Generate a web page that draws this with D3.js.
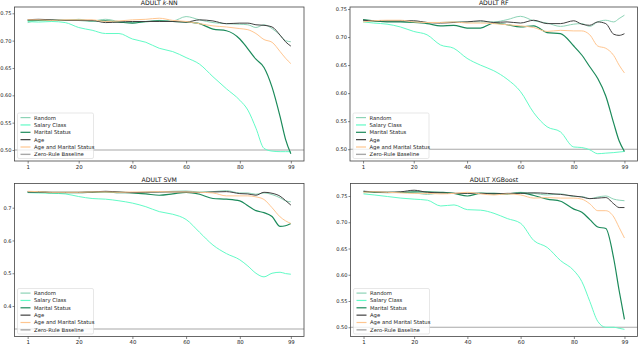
<!DOCTYPE html>
<html>
<head>
<meta charset="utf-8">
<script src="https://cdn.jsdelivr.net/npm/d3@7"></script>
<style>
  body { margin: 0; background: #fff; }
  svg { display: block; font-family: "DejaVu Sans", sans-serif; }
</style>
</head>
<body>
<svg id="chart" width="640" height="345"></svg>
<script>
// x positions (percent of data removed) where values were read
var steps = [1, 5, 10, 15, 20, 25, 30, 35, 40, 45, 50, 55, 60, 65, 70, 75, 80, 83, 86, 89, 92, 95, 97, 99];
var xTicks = [1, 20, 40, 60, 80, 99];
var seriesNames = ["Random", "Salary Class", "Marital Status", "Age", "Age and Marital Status"];

// ADULT k-NN
var knnRandom  = [0.733,0.737,0.738,0.737,0.739,0.736,0.739,0.735,0.733,0.734,0.737,0.736,0.744,0.738,0.733,0.731,0.730,0.729,0.724,0.729,0.722,0.710,0.700,0.698];
var knnSalary  = [0.735,0.734,0.735,0.733,0.724,0.719,0.713,0.713,0.703,0.697,0.686,0.680,0.669,0.657,0.634,0.612,0.591,0.573,0.540,0.503,0.498,0.497,0.497,0.497];
var knnMarital = [0.737,0.737,0.737,0.737,0.737,0.736,0.736,0.734,0.732,0.735,0.736,0.735,0.734,0.731,0.721,0.718,0.703,0.685,0.666,0.651,0.615,0.561,0.520,0.493];
var knnAge     = [0.738,0.739,0.738,0.737,0.737,0.737,0.733,0.734,0.735,0.735,0.735,0.735,0.734,0.738,0.736,0.731,0.732,0.732,0.729,0.728,0.725,0.710,0.698,0.690];
var knnAgeMar  = [0.738,0.738,0.737,0.738,0.738,0.738,0.735,0.736,0.738,0.739,0.741,0.737,0.735,0.731,0.727,0.725,0.722,0.720,0.713,0.702,0.697,0.680,0.668,0.658];

// ADULT RF
var rfRandom  = [0.729,0.728,0.728,0.728,0.728,0.726,0.726,0.727,0.727,0.727,0.727,0.731,0.737,0.729,0.725,0.719,0.723,0.724,0.719,0.727,0.730,0.727,0.733,0.739];
var rfSalary  = [0.727,0.725,0.723,0.718,0.710,0.704,0.686,0.680,0.662,0.650,0.640,0.625,0.603,0.565,0.540,0.531,0.504,0.503,0.499,0.492,0.493,0.494,0.495,0.496];
var rfMarital = [0.731,0.729,0.727,0.727,0.726,0.724,0.720,0.721,0.716,0.716,0.725,0.722,0.718,0.720,0.708,0.706,0.684,0.668,0.647,0.626,0.595,0.546,0.515,0.496];
var rfAge     = [0.730,0.729,0.729,0.729,0.729,0.726,0.725,0.726,0.727,0.729,0.726,0.727,0.725,0.730,0.724,0.724,0.729,0.723,0.721,0.727,0.724,0.705,0.703,0.706];
var rfAgeMar  = [0.727,0.729,0.730,0.730,0.727,0.726,0.726,0.727,0.725,0.725,0.724,0.722,0.720,0.717,0.710,0.712,0.711,0.711,0.704,0.684,0.680,0.667,0.650,0.636];

// ADULT SVM
var svmRandom  = [0.747,0.748,0.747,0.747,0.747,0.748,0.749,0.748,0.746,0.747,0.748,0.750,0.751,0.748,0.749,0.752,0.745,0.745,0.741,0.745,0.740,0.730,0.721,0.718];
var svmSalary  = [0.746,0.745,0.744,0.742,0.734,0.728,0.726,0.721,0.714,0.703,0.688,0.680,0.664,0.625,0.586,0.560,0.541,0.522,0.500,0.489,0.500,0.503,0.499,0.497];
var svmMarital = [0.748,0.748,0.746,0.746,0.746,0.747,0.748,0.746,0.745,0.742,0.738,0.742,0.747,0.741,0.728,0.726,0.721,0.706,0.691,0.685,0.673,0.643,0.645,0.652];
var svmAge     = [0.748,0.748,0.747,0.747,0.747,0.748,0.750,0.748,0.746,0.747,0.748,0.748,0.748,0.746,0.748,0.749,0.743,0.742,0.738,0.747,0.744,0.735,0.722,0.708];
var svmAgeMar  = [0.750,0.749,0.747,0.747,0.747,0.748,0.748,0.747,0.748,0.748,0.749,0.748,0.748,0.747,0.745,0.736,0.736,0.736,0.733,0.725,0.700,0.672,0.660,0.652];

// ADULT XGBoost
var xgbRandom  = [0.756,0.757,0.756,0.757,0.756,0.753,0.756,0.755,0.755,0.756,0.753,0.754,0.757,0.755,0.752,0.754,0.749,0.749,0.745,0.748,0.750,0.744,0.742,0.741];
var xgbSalary  = [0.754,0.752,0.749,0.746,0.744,0.742,0.731,0.733,0.724,0.723,0.717,0.707,0.698,0.665,0.652,0.627,0.608,0.587,0.549,0.511,0.500,0.500,0.498,0.496];
var xgbMarital = [0.759,0.757,0.757,0.757,0.758,0.758,0.757,0.755,0.750,0.755,0.755,0.754,0.756,0.751,0.744,0.740,0.725,0.719,0.705,0.691,0.688,0.630,0.570,0.515];
var xgbAge     = [0.759,0.758,0.757,0.758,0.761,0.757,0.756,0.755,0.755,0.755,0.754,0.755,0.755,0.756,0.755,0.753,0.750,0.748,0.745,0.746,0.747,0.735,0.728,0.728];
var xgbAgeMar  = [0.757,0.758,0.757,0.756,0.755,0.755,0.754,0.755,0.757,0.754,0.752,0.754,0.752,0.746,0.747,0.746,0.746,0.744,0.735,0.722,0.722,0.710,0.690,0.670];

// zero-rule baselines
var baselines = [0.50, 0.50, 0.33, 0.50];

var colors = ["#8dd3b6", "#62fbc6", "#1b8a5a", "#404040", "#ffc690"];
var baseColor = "#a8a8a8";

var panels = [
  {title: "k-NN", series: [knnRandom, knnSalary, knnMarital, knnAge, knnAgeMar], base: baselines[0],
   box: [14.5, 304, 7, 161], yDom: [0.4799, 0.7615], yTicks: [0.50, 0.55, 0.60, 0.65, 0.70, 0.75], fmt: ".2f"},
  {title: "RF", series: [rfRandom, rfSalary, rfMarital, rfAge, rfAgeMar], base: baselines[1],
   box: [350, 637.5, 7, 161], yDom: [0.479, 0.7536], yTicks: [0.50, 0.55, 0.60, 0.65, 0.70, 0.75], fmt: ".2f"},
  {title: "SVM", series: [svmRandom, svmSalary, svmMarital, svmAge, svmAgeMar], base: baselines[2],
   box: [14.5, 304, 183.5, 336.5], yDom: [0.307, 0.7738], yTicks: [0.4, 0.5, 0.6, 0.7], fmt: ".1f"},
  {title: "XGBoost", series: [xgbRandom, xgbSalary, xgbMarital, xgbAge, xgbAgeMar], base: baselines[3],
   box: [350.5, 637.5, 183.5, 336.5], yDom: [0.4824, 0.7738], yTicks: [0.50, 0.55, 0.60, 0.65, 0.70, 0.75], fmt: ".2f"}
];

var svg = d3.select("#chart");

panels.forEach(function(p) {
  var left = p.box[0], right = p.box[1], top = p.box[2], bottom = p.box[3];
  var x = d3.scaleLinear().domain([-3.9, 103.9]).range([left, right]);
  var y = d3.scaleLinear().domain(p.yDom).range([bottom, top]);
  var g = svg.append("g");

  // title
  var t = g.append("text")
    .attr("x", (left + right) / 2).attr("y", top - 2)
    .attr("text-anchor", "middle")
    .attr("font-size", 6.2).attr("fill", "#111")
    .text("ADULT ");
  if (p.title === "k-NN") {
    t.append("tspan").attr("font-style", "italic").text("k");
    t.append("tspan").text("-NN");
  } else {
    t.append("tspan").text(p.title);
  }

  // axes
  g.append("g")
    .attr("transform", "translate(0," + bottom + ")")
    .call(d3.axisBottom(x).tickValues(xTicks).tickSize(2.5).tickPadding(1.5).tickFormat(d3.format("d")))
    .call(function(a) {
      a.select(".domain").remove();
      a.selectAll("line").attr("stroke", "#333").attr("stroke-width", 0.6);
      a.selectAll("text").attr("font-size", 5.4).attr("fill", "#222").attr("font-family", "DejaVu Sans");
    });

  g.append("g")
    .attr("transform", "translate(" + left + ",0)")
    .call(d3.axisLeft(y).tickValues(p.yTicks).tickSize(2).tickPadding(1).tickFormat(d3.format(p.fmt)))
    .call(function(a) {
      a.select(".domain").remove();
      a.selectAll("line").attr("stroke", "#333").attr("stroke-width", 0.6);
      a.selectAll("text").attr("font-size", 5.1).attr("fill", "#222").attr("font-family", "DejaVu Sans");
    });

  // baseline
  g.append("line")
    .attr("x1", left).attr("x2", right)
    .attr("y1", y(p.base)).attr("y2", y(p.base))
    .attr("stroke", baseColor).attr("stroke-width", 1.1);

  var line = d3.line()
    .curve(d3.curveMonotoneX)
    .x(function(d, i) { return x(steps[i]); })
    .y(function(d) { return y(d); });

  p.series.forEach(function(s, i) {
    g.append("path")
      .attr("d", line(s))
      .attr("fill", "none")
      .attr("stroke", colors[i])
      .attr("stroke-width", i === 2 ? 1.2 : 1);
  });

  // frame
  g.append("rect")
    .attr("x", left).attr("y", top)
    .attr("width", right - left).attr("height", bottom - top)
    .attr("fill", "none").attr("stroke", "#444").attr("stroke-width", 0.8);

  // legend
  var lx = left + 3, ly = bottom - 48;
  var leg = g.append("g").attr("transform", "translate(" + lx + "," + ly + ")");
  leg.append("rect")
    .attr("width", 76).attr("height", 45.5).attr("rx", 1.5)
    .attr("fill", "#fff").attr("fill-opacity", 0.8)
    .attr("stroke", "#d6d6d6").attr("stroke-width", 0.6);
  var items = seriesNames.concat(["Zero-Rule Baseline"]);
  items.forEach(function(name, i) {
    var cy = 4.6 + i * 7.35;
    leg.append("line")
      .attr("x1", 3).attr("x2", 13).attr("y1", cy).attr("y2", cy)
      .attr("stroke", i < 5 ? colors[i] : baseColor)
      .attr("stroke-width", i === 5 ? 1.4 : 1.2);
    leg.append("text")
      .attr("x", 16.5).attr("y", cy + 1.9)
      .attr("font-size", 5.3).attr("fill", "#222")
      .text(name);
  });
});
</script>
</body>
</html>
